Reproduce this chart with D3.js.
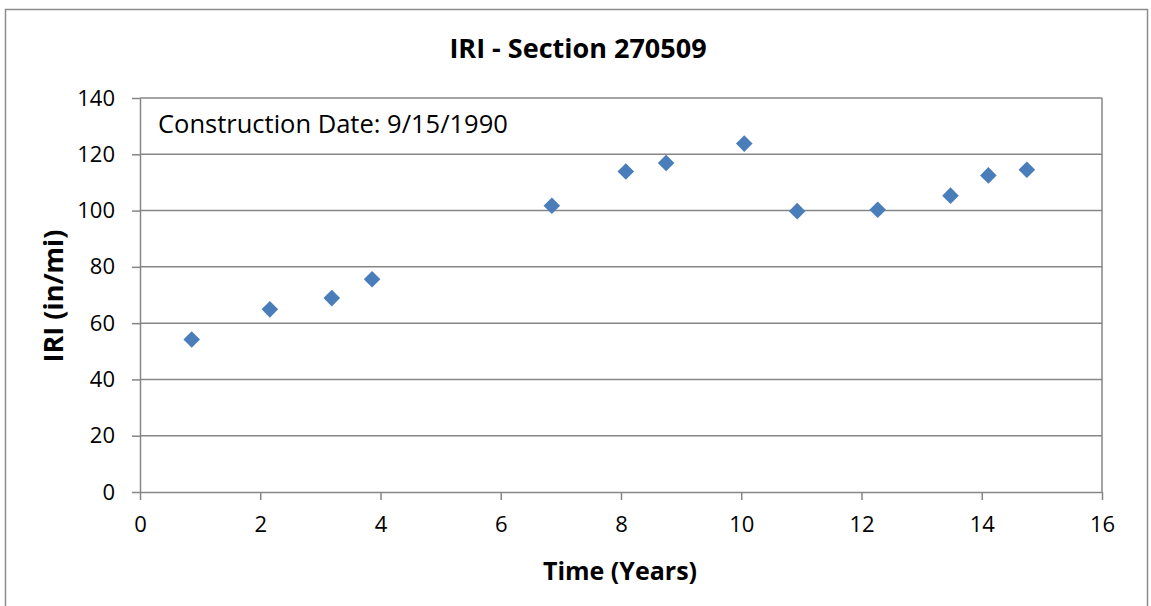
<!DOCTYPE html>
<html><head><meta charset="utf-8">
<script src="https://cdn.jsdelivr.net/npm/d3@7"></script>
<style>body{margin:0;background:#fff}svg{display:block}text{font-family:"Open Sans",Lato,sans-serif;fill:#000}</style>
</head><body>
<script>
const years = [0.86, 2.16, 3.19, 3.86, 6.85, 8.08, 8.75, 10.05, 10.93, 12.27, 13.48, 14.11, 14.75];
const iri = [54.2, 64.9, 68.9, 75.6, 101.7, 113.9, 116.9, 123.8, 99.8, 100.3, 105.3, 112.5, 114.5];
const xTicks = [0, 2, 4, 6, 8, 10, 12, 14, 16];
const yTicks = [0, 20, 40, 60, 80, 100, 120, 140];
const title = "IRI - Section 270509";
const xTitle = "Time (Years)";
const yTitle = "IRI (in/mi)";
const note = "Construction Date: 9/15/1990";

const W = 1151, H = 606;
const m = {l: 140, r: 1102, t: 98, b: 492};
const svg = d3.select("body").append("svg").attr("width", W).attr("height", H);
svg.append("rect").attr("x", 5.5).attr("y", 9.5).attr("width", W - 9).attr("height", H).attr("fill", "#fff").attr("stroke", "#8c8c8c").attr("stroke-width", 1.5);

const x = d3.scaleLinear().domain([0, 16]).range([m.l, m.r]);
const y = d3.scaleLinear().domain([0, 140]).range([m.b, m.t]);
const grey = "#868686";

svg.append("g").selectAll("line").data(yTicks.filter(d => d > 0)).join("line")
  .attr("x1", m.l).attr("x2", m.r).attr("y1", d => y(d)).attr("y2", d => y(d))
  .attr("stroke", grey).attr("stroke-width", 1.5);
svg.append("line").attr("x1", m.r).attr("x2", m.r).attr("y1", m.t).attr("y2", m.b).attr("stroke", grey).attr("stroke-width", 1.5);

const xAxis = svg.append("g").attr("transform", `translate(0,${m.b})`)
  .call(d3.axisBottom(x).tickValues(xTicks).tickSize(8).tickSizeOuter(0).tickPadding(16));
const yAxis = svg.append("g").attr("transform", `translate(${m.l},0)`)
  .call(d3.axisLeft(y).tickValues(yTicks).tickSize(8).tickSizeOuter(0).tickPadding(17));
[xAxis, yAxis].forEach(a => {
  a.select(".domain").attr("stroke", grey).attr("stroke-width", 1.5);
  a.selectAll(".tick line").attr("stroke", grey).attr("stroke-width", 1.5);
  a.selectAll(".tick text").attr("font-size", 22).attr("font-family", "'Open Sans', Lato, sans-serif").attr("fill", "#111");
});

const sym = d3.symbol().type(d3.symbolDiamond2).size(175);
svg.append("g").selectAll("path").data(years.map((d, i) => [d, iri[i]])).join("path")
  .attr("d", sym).attr("transform", d => `translate(${x(d[0])},${y(d[1])})`)
  .attr("fill", "#4a7ebb");

svg.append("text").attr("x", 578).attr("y", 58).attr("text-anchor", "middle")
  .attr("font-size", 27).attr("font-weight", "bold").text(title);
svg.append("text").attr("x", 620).attr("y", 580).attr("text-anchor", "middle")
  .attr("font-size", 25).attr("font-weight", "bold").text(xTitle);
svg.append("text").attr("transform", "translate(63,296) rotate(-90)").attr("text-anchor", "middle")
  .attr("font-size", 27).attr("font-weight", "bold").text(yTitle);
svg.append("text").attr("x", 158).attr("y", 133).attr("font-size", 25.5).text(note);
</script>
</body></html>
